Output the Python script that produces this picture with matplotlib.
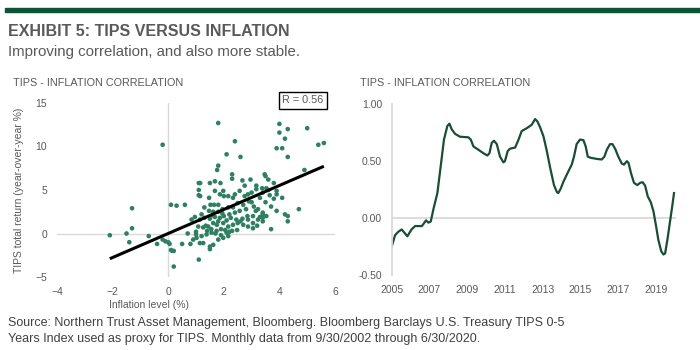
import matplotlib
matplotlib.use("Agg")
import matplotlib.pyplot as plt
import numpy as np

plt.rcParams['font.family'] = ['Liberation Sans', 'DejaVu Sans']

# ---------------- data ----------------
inflation = [
    -2.1, -1.5, -1.3, -1.3, -1.4, -0.7, -0.4, -0.2, -0.2, -0.1, 0.0, 0.05, 0.1, 0.15, 0.2,
    0.1, 0.3, 0.2, 0.6, 0.5, 0.8, 0.7, 1.0, 1.1, 1.1, 1.15, 1.1, 1.15, 1.1,
    1.8, 1.8, 2.1, 2.4, 2.6, 4.0, 4.0, 4.3, 4.2, 3.9, 4.1, 4.3, 5.0, 5.4, 5.6,
    4.9, 4.7, 4.2, 4.3, 4.3, 4.1, 3.9, 3.7, 3.9, 3.8, 3.7,
    1.76, 1.5, 1.68, 1.88, 2.3, 2.3, 2.67, 2.75, 2.96, 3.17, 3.47, 3.5, 3.6, 3.38,
    3.53, 3.6, 3.4, 3.17, 3.0, 2.87, 2.75, 2.57, 2.4, 2.33, 2.16, 1.98, 2.0, 1.86,
    1.68, 1.47, 1.3, 1.52, 1.65, 1.8, 1.47, 1.62, 1.8, 1.95, 2.16, 2.33, 2.5, 2.7,
    2.9, 3.08, 2.8, 2.57, 2.4, 2.2, 2.0, 1.86, 1.68, 1.5, 1.3, 1.14, 0.96, 0.84,
    1.08, 1.26, 1.44, 1.62, 1.8, 1.98, 2.16, 2.33, 2.5, 2.7, 2.87, 3.05, 3.23, 3.4,
    3.53, 3.4, 3.23, 3.05, 2.87, 2.67, 2.48, 2.3, 2.1, 1.9, 1.74, 1.56, 1.38, 1.2,
    1.02, 1.14, 1.26, 1.5, 1.5, 1.62, 1.8, 1.98, 2.16, 3.0, 3.8, 3.9, 3.65, 3.5,
    3.3, 3.4, 3.2, 3.05, 3.4, 2.1, 2.25, 1.95, 1.6, 1.4, 1.35, 1.55, 1.75, 2.05,
    2.45, 2.6, 2.85, 3.15, 3.3, 1.2, 1.0, 0.9, 1.7, 1.9, 2.2,
]
tips_return = [
    -0.2, 0.0, 2.9, 0.6, -1.0, -0.3, -1.2, 10.2, -0.7, -0.9, -1.0, -1.2, -1.9, -2.0, -2.0,
    3.3, 3.2, -3.8, 3.3, -1.2, -1.2, 0.0, -0.1, -3.0, 5.8, 5.8, 4.4, 4.3, 5.0,
    12.7, 7.8, 9.1, 10.6, 8.8, 12.6, 11.6, 12.0, 10.9, 9.8, 9.8, 8.8, 12.1, 10.2, 10.4,
    7.3, 2.8, 2.2, 2.0, 1.4, 4.1, 4.5, 3.1, 2.6, 5.8, 0.5,
    7.3, 5.8, 6.0, 5.8, 6.8, 6.3, 6.1, 5.5, 6.2, 5.5, 6.8, 6.6, 6.2, 5.2,
    5.2, 5.0, 4.7, 5.1, 4.7, 4.5, 4.3, 4.9, 4.5, 4.1, 4.3, 4.9, 4.3, 4.5,
    4.9, 4.1, 3.0, 3.3, 3.3, 3.3, 2.6, 2.5, 2.5, 2.8, 3.0, 3.0, 3.5, 3.3,
    3.7, 3.1, 2.8, 2.6, 2.4, 2.2, 2.0, 1.8, 1.9, 1.7, 1.8, 1.6, 1.9, 1.6,
    0.8, 0.7, 0.8, 1.2, 1.4, 1.2, 0.8, 1.0, 1.2, 1.0, 0.8, 1.2, 1.6, 1.8,
    2.0, 2.4, 2.8, 2.0, 1.6, 1.7, 0.4, 0.3, 0.1, 0.5, 0.3, 0.1, -0.1, -0.3,
    -0.5, -1.1, -1.1, -1.5, -1.8, -1.3, -0.7, -0.5, -0.3, 3.6, 4.0, 4.9, 4.4, 3.6,
    4.1, 1.4, 0.9, 0.6, 2.2, 1.5, 1.8, 2.3, 2.1, 0.3, 0.9, 0.5, 1.0, 0.4,
    1.6, 1.4, 2.0, 2.6, 1.9, 2.2, 0.2, -0.7, 0.0, -0.2, 0.2,
]
trend_slope = 1.38
trend_intercept = 0.0
r_value = 0.56

years = [
    2005.0, 2005.18, 2005.35, 2005.53, 2005.83, 2006.05, 2006.24, 2006.6, 2006.82, 2006.95,
    2007.07, 2007.2, 2007.42, 2007.6, 2007.77, 2007.95, 2008.06, 2008.18, 2008.36, 2008.62,
    2009.06, 2009.19, 2009.33, 2009.6, 2009.86, 2010.07, 2010.18, 2010.3, 2010.42, 2010.57,
    2010.74, 2010.92, 2011.0, 2011.15, 2011.27, 2011.54, 2011.71, 2011.89, 2012.16, 2012.42,
    2012.6, 2012.72, 2012.86, 2013.04, 2013.22, 2013.4, 2013.6, 2013.75, 2013.83, 2013.96,
    2014.1, 2014.36, 2014.54, 2014.66, 2014.8, 2014.98, 2015.16, 2015.28, 2015.39, 2015.55,
    2015.87, 2016.13, 2016.27, 2016.4, 2016.57, 2016.7, 2016.84, 2017.01, 2017.19, 2017.31,
    2017.46, 2017.55, 2017.69, 2017.84, 2018.02, 2018.16, 2018.3, 2018.43, 2018.57, 2018.73,
    2018.87, 2019.01, 2019.13, 2019.28, 2019.4, 2019.49, 2019.61, 2019.75, 2019.88, 2019.96,
]
correlation = [
    -0.25, -0.15, -0.12, -0.10, -0.16, -0.10, -0.07, -0.07, -0.02, -0.04,
    -0.03, 0.07, 0.22, 0.46, 0.69, 0.81, 0.83, 0.78, 0.74, 0.715,
    0.71, 0.69, 0.63, 0.60, 0.57, 0.55, 0.57, 0.66, 0.68, 0.65,
    0.54, 0.49, 0.50, 0.59, 0.61, 0.62, 0.685, 0.765, 0.79, 0.82,
    0.87, 0.85, 0.80, 0.72, 0.59, 0.44, 0.29, 0.23, 0.22, 0.26,
    0.32, 0.41, 0.47, 0.54, 0.65, 0.69, 0.685, 0.63, 0.54, 0.53,
    0.52, 0.515, 0.54, 0.60, 0.65, 0.65, 0.61, 0.54, 0.48, 0.47,
    0.50, 0.485, 0.39, 0.31, 0.29, 0.31, 0.315, 0.285, 0.19, 0.14,
    0.06, -0.07, -0.19, -0.29, -0.32, -0.31, -0.19, -0.03, 0.12, 0.22,
]
scatter_xticks = [-4, -2, 0, 2, 4, 6]
scatter_yticks = [-5, 0, 5, 10, 15]
year_ticks = [2005, 2007, 2009, 2011, 2013, 2015, 2017, 2019]
corr_ticks = [-0.5, 0.0, 0.5, 1.0]

# ---------------- style ----------------
GREEN_BAR = '#0d5437'
DOT = '#2f7f62'
LINE = '#1a4d36'
TXT = '#595959'
GRID = '#d9d9d9'

fig = plt.figure(figsize=(7, 3.5), dpi=100)
W, H = 700, 350

def fx(px):
    return px / W

def fy(py):
    return 1 - py / H

# top bar
fig.patches.append(plt.Rectangle((fx(5), fy(12)), 1 - fx(5), 4 / H, transform=fig.transFigure,
                                 color=GREEN_BAR, zorder=0))
fig.text(fx(8), fy(32), 'EXHIBIT 5: TIPS VERSUS INFLATION', fontsize=11.5, fontweight='bold',
         color=TXT, va='center', ha='left')
fig.text(fx(8), fy(52), 'Improving correlation, and also more stable.', fontsize=10.8,
         color=TXT, va='center', ha='left')
fig.text(fx(13), fy(83), 'TIPS - INFLATION CORRELATION', fontsize=7.8, color=TXT, va='center')
fig.text(fx(360), fy(83), 'TIPS - INFLATION CORRELATION', fontsize=7.8, color=TXT, va='center')

# ---------------- left scatter ----------------
ax1 = fig.add_axes([fx(57), fy(277), fx(335) - fx(57), (277 - 103) / H])
ax1.axhline(0, color=GRID, lw=1, zorder=1)
ax1.axvline(0, color=GRID, lw=1, zorder=1)
ax1.scatter(inflation, tips_return, s=11, color=DOT, edgecolors='none', zorder=2)
xl = np.array([min(inflation), max(inflation)])
ax1.plot(xl, trend_slope * xl + trend_intercept, color='black', lw=2.2, zorder=3,
         solid_capstyle='butt')
ax1.set_xlim(-4, 6)
ax1.set_ylim(-5, 15)
ax1.set_xticks(scatter_xticks)
ax1.set_yticks(scatter_yticks)
for s in ax1.spines.values():
    s.set_visible(False)
ax1.tick_params(length=0, labelsize=7.5, labelcolor=TXT, pad=7)
ax1.set_ylabel('TIPS total return (year-over-year %)', fontsize=7.5, color=TXT, labelpad=8)
fig.text(fx(149), fy(305), 'Inflation level (%)', fontsize=7.5, color=TXT, ha='center', va='center')
ax1.text(0.885, 1.015, f'R = {r_value:.2f}', transform=ax1.transAxes, fontsize=7.8, color=TXT,
         ha='center', va='center',
         bbox=dict(boxstyle='square,pad=0.3', fc='white', ec='black', lw=1.0))

# ---------------- right line ----------------
ax2 = fig.add_axes([fx(391.7), fy(275), (682.3 - 391.7) / W, (275 - 104.3) / H])
ax2.axhline(0, color=GRID, lw=1.3, xmin=0, xmax=(2020 - 2005) / 15.4, zorder=1)
ax2.plot(years, correlation, color=LINE, lw=1.6, zorder=2, solid_joinstyle='round')
ax2.set_xlim(2005, 2020.4)
ax2.set_ylim(-0.5, 1.0)
ax2.set_xticks(year_ticks)
ax2.set_yticks(corr_ticks)
ax2.set_yticklabels([f'{v:.2f}' for v in corr_ticks])
for k, s in ax2.spines.items():
    s.set_visible(k == 'left')
ax2.spines['left'].set_color(GRID)
ax2.spines['left'].set_linewidth(1.3)
ax2.tick_params(length=0, labelsize=7.5, labelcolor=TXT, pad=7)

# ---------------- source ----------------
fig.text(fx(8), fy(323), 'Source: Northern Trust Asset Management, Bloomberg. Bloomberg Barclays U.S. Treasury TIPS 0-5',
         fontsize=9, color='#404040', va='center')
fig.text(fx(8), fy(339), 'Years Index used as proxy for TIPS. Monthly data from 9/30/2002 through 6/30/2020.',
         fontsize=9, color='#404040', va='center')

fig.savefig('out.png', dpi=100)
